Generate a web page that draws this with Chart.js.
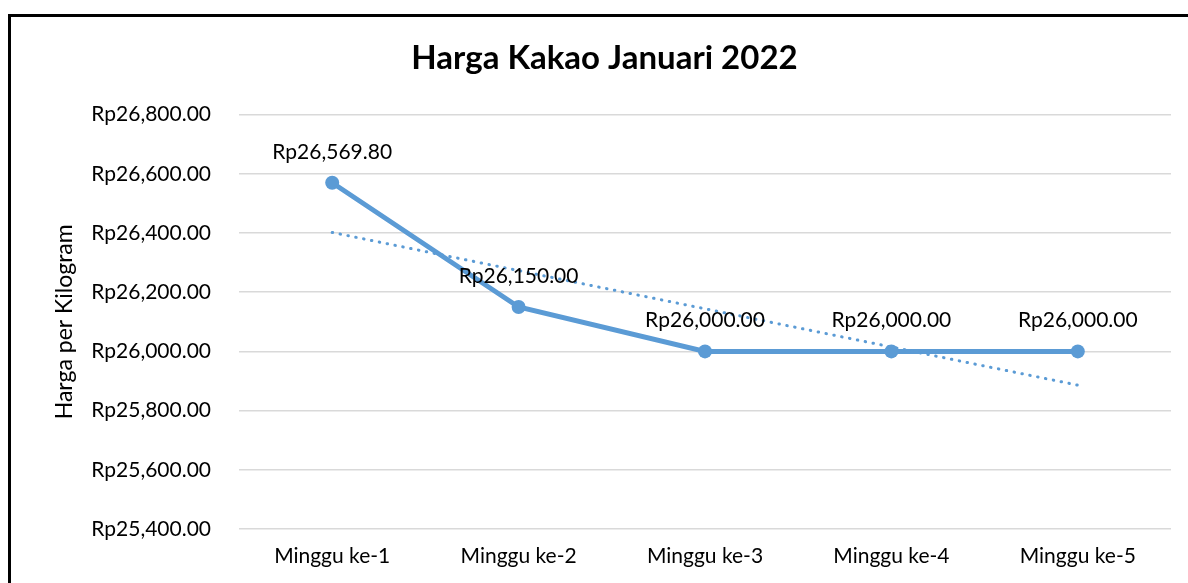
<!DOCTYPE html>
<html>
<head>
<meta charset="utf-8">
<script src="https://cdn.jsdelivr.net/npm/chart.js@4/dist/chart.umd.min.js"></script>
<style>
  html, body { margin: 0; padding: 0; background: #fff; }
  #wrap { position: relative; width: 1188px; height: 583px; overflow: hidden; }
  #frame { position: absolute; left: 8px; top: 14px; width: 1200px; height: 600px;
           border-left: 3px solid #000; border-top: 3px solid #000; box-sizing: border-box; pointer-events: none; }
  canvas { position: absolute; left: 0; top: 0; }
</style>
</head>
<body>
<div id="wrap">
  <canvas id="c" width="1188" height="583"></canvas>
  <div id="frame"></div>
</div>
<script>
const categories = ['Minggu ke-1', 'Minggu ke-2', 'Minggu ke-3', 'Minggu ke-4', 'Minggu ke-5'];
const prices = [26569.80, 26150.00, 26000.00, 26000.00, 26000.00];
const trendValues = [26401.9, 26272.9, 26144.0, 26015.0, 25886.0];
const yTicks = [25400, 25600, 25800, 26000, 26200, 26400, 26600, 26800];
const chartTitle = 'Harga Kakao Januari 2022';
const yAxisTitle = 'Harga per Kilogram';

const FONT = 'Lato, "Open Sans", sans-serif';
const BLUE = '#5B9BD5';
const TXT = 21;

function rp(v) {
  return 'Rp' + Number(v).toLocaleString('en-US', { minimumFractionDigits: 2, maximumFractionDigits: 2 });
}

const dataLabels = {
  id: 'dataLabels',
  afterDatasetsDraw(chart) {
    const idx = chart.data.datasets.findIndex(d => d.showLabels);
    const meta = chart.getDatasetMeta(idx);
    const ctx = chart.ctx;
    ctx.save();
    ctx.font = TXT + 'px ' + FONT;
    ctx.fillStyle = '#000';
    ctx.textAlign = 'center';
    ctx.textBaseline = 'middle';
    meta.data.forEach((el, i) => {
      ctx.fillText(rp(chart.data.datasets[idx].data[i]), el.x, el.y - 31);
    });
    ctx.restore();
  }
};

new Chart(document.getElementById('c'), {
  type: 'line',
  data: {
    labels: categories,
    datasets: [
      {
        label: 'Linear (Harga)',
        data: trendValues,
        borderColor: BLUE,
        borderWidth: 3,
        borderDash: [0.5, 7.5],
        borderCapStyle: 'round',
        pointRadius: 0,
        fill: false,
        tension: 0
      },
      {
        label: 'Harga',
        data: prices,
        showLabels: true,
        borderColor: BLUE,
        backgroundColor: BLUE,
        borderWidth: 5,
        pointRadius: 7,
        pointBackgroundColor: BLUE,
        pointBorderColor: BLUE,
        pointBorderWidth: 0,
        fill: false,
        tension: 0
      }
    ]
  },
  options: {
    responsive: false,
    animation: false,
    layout: { padding: { left: 38, right: 17, top: 16, bottom: 0 } },
    plugins: {
      legend: { display: false },
      tooltip: { enabled: false },
      title: {
        display: true,
        text: chartTitle,
        color: '#000',
        font: { family: FONT, size: 33, weight: 'bold', lineHeight: 1.2 },
        padding: { top: 23, bottom: 36 }
      }
    },
    scales: {
      x: {
        type: 'category',
        offset: true,
        grid: { display: false, drawTicks: false },
        border: { display: false },
        ticks: { color: '#000', font: { family: FONT, size: TXT }, padding: 15, maxRotation: 0 },
        afterFit(s) { s.height = 54; }
      },
      y: {
        min: 25400,
        max: 26800,
        afterBuildTicks(s) { s.ticks = yTicks.map(v => ({ value: v })); },
        grid: { color: '#D9D9D9', lineWidth: 1.5, drawTicks: false },
        border: { display: false },
        ticks: { color: '#000', font: { family: FONT, size: TXT }, padding: 28, callback: v => rp(v) },
        title: {
          display: true,
          text: yAxisTitle,
          color: '#000',
          font: { family: FONT, size: 23, lineHeight: 1.2 },
          padding: { top: 13, bottom: 0 }
        },
        afterFit(s) { s.width = 201; }
      }
    }
  },
  plugins: [dataLabels]
});
</script>
</body>
</html>
